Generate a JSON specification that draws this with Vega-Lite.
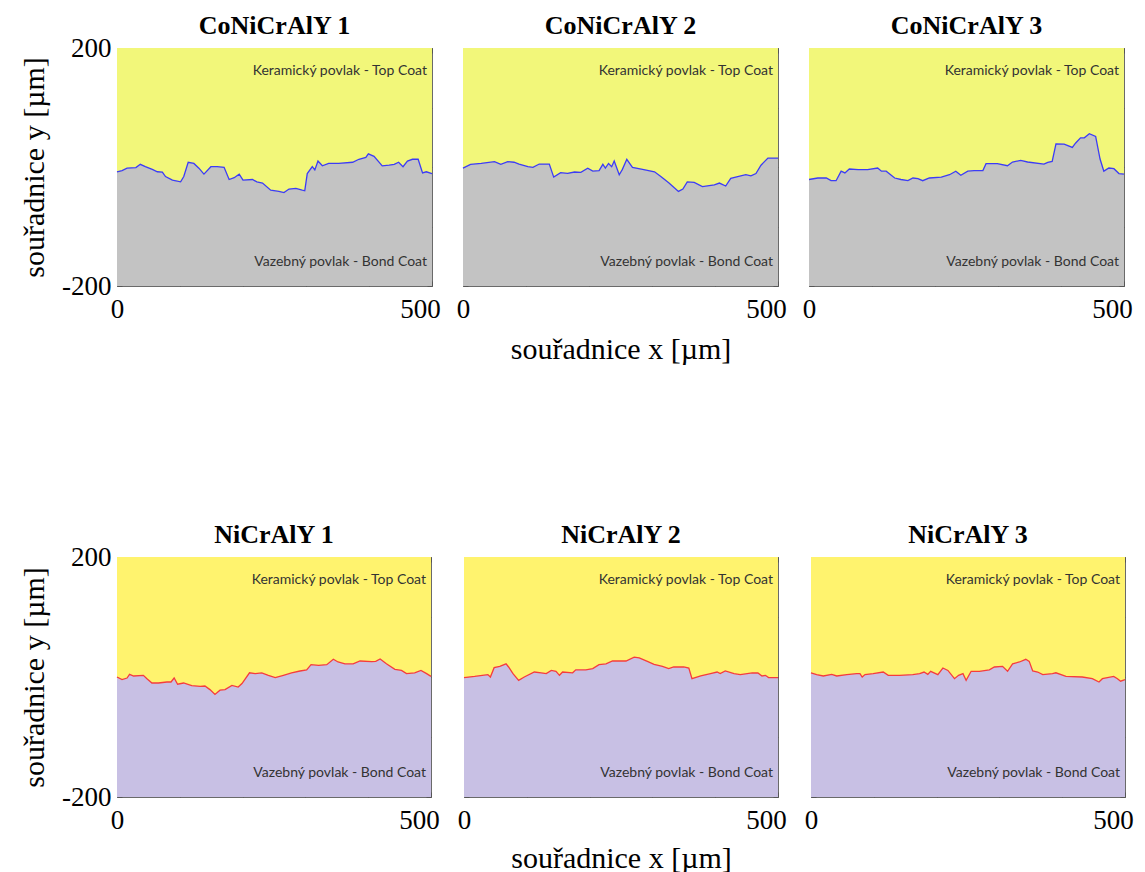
{
  "$schema": "https://vega.github.io/schema/vega-lite/v6.json",
  "background": "white",
  "padding": {"left": 19, "top": 12, "right": 5, "bottom": 2},
  "datasets": {
    "c1": [{"x":0,"y":-8},{"x":8,"y":-6},{"x":16,"y":-2},{"x":30,"y":-1},{"x":37,"y":4.5},{"x":45,"y":0.5},{"x":56,"y":-4},{"x":64,"y":-8},{"x":72,"y":-8.5},{"x":77,"y":-16},{"x":88,"y":-22},{"x":101,"y":-25},{"x":106,"y":-16},{"x":113,"y":8},{"x":122,"y":6},{"x":130,"y":-2},{"x":138,"y":-12},{"x":149,"y":0.5},{"x":159,"y":0.5},{"x":170,"y":-0.5},{"x":178,"y":-21},{"x":186,"y":-18},{"x":194,"y":-12},{"x":200,"y":-22},{"x":215,"y":-21},{"x":222,"y":-25},{"x":231,"y":-27},{"x":244,"y":-39},{"x":257,"y":-41},{"x":265,"y":-43},{"x":273,"y":-37},{"x":284,"y":-36},{"x":294,"y":-39},{"x":298,"y":-40},{"x":302,"y":-11},{"x":310,"y":0.5},{"x":314,"y":-5},{"x":319,"y":10},{"x":326,"y":2},{"x":336,"y":6},{"x":352,"y":6},{"x":374,"y":8},{"x":384,"y":13},{"x":395,"y":16},{"x":399,"y":22},{"x":408,"y":18},{"x":421,"y":2},{"x":432,"y":3},{"x":440,"y":4.5},{"x":447,"y":8},{"x":454,"y":0.5},{"x":461,"y":10},{"x":469,"y":13},{"x":478,"y":13},{"x":485,"y":-10},{"x":491,"y":-8},{"x":500,"y":-11}],
    "c2": [{"x":0,"y":-2},{"x":12,"y":4.5},{"x":29,"y":6},{"x":50,"y":9},{"x":60,"y":4.5},{"x":71,"y":9},{"x":81,"y":8},{"x":89,"y":5},{"x":103,"y":0.5},{"x":111,"y":-0.5},{"x":121,"y":5},{"x":137,"y":5},{"x":144,"y":-17},{"x":155,"y":-9.5},{"x":166,"y":-10.6},{"x":177,"y":-8.4},{"x":187,"y":-9},{"x":198,"y":-2},{"x":206,"y":-7},{"x":216,"y":-6},{"x":222,"y":4.5},{"x":226,"y":-2},{"x":231,"y":6},{"x":236,"y":0.5},{"x":240,"y":10},{"x":248,"y":-13},{"x":253,"y":-4},{"x":260,"y":13},{"x":269,"y":-0.5},{"x":285,"y":-4},{"x":304,"y":-8},{"x":314,"y":-16},{"x":327,"y":-27},{"x":342,"y":-41},{"x":349,"y":-37},{"x":356,"y":-25},{"x":367,"y":-26},{"x":380,"y":-33},{"x":399,"y":-30},{"x":407,"y":-27},{"x":417,"y":-32},{"x":425,"y":-19},{"x":436,"y":-16},{"x":449,"y":-13},{"x":457,"y":-15},{"x":465,"y":-11},{"x":473,"y":3},{"x":484,"y":15},{"x":491,"y":15},{"x":500,"y":15}],
    "c3": [{"x":0,"y":-21},{"x":14,"y":-18.5},{"x":27.5,"y":-18.5},{"x":35,"y":-23},{"x":43,"y":-23},{"x":51,"y":-7},{"x":57,"y":-10},{"x":64,"y":-3.4},{"x":78,"y":-4.5},{"x":93,"y":-4.5},{"x":109,"y":-1.7},{"x":115,"y":-7},{"x":122.5,"y":-7},{"x":136,"y":-18.5},{"x":146,"y":-21},{"x":157,"y":-23},{"x":165,"y":-18.5},{"x":173,"y":-19.6},{"x":180.5,"y":-23},{"x":191,"y":-18.5},{"x":210,"y":-17},{"x":223,"y":-13},{"x":233,"y":-7},{"x":241,"y":-14},{"x":252,"y":-7},{"x":262,"y":-6},{"x":276,"y":-6},{"x":281,"y":5.6},{"x":299,"y":5.6},{"x":315,"y":2.2},{"x":323,"y":8.4},{"x":336,"y":11},{"x":347,"y":8.4},{"x":373,"y":5},{"x":379,"y":7.8},{"x":386,"y":9.5},{"x":392,"y":39},{"x":405,"y":38.6},{"x":418,"y":33},{"x":423,"y":40},{"x":431,"y":49},{"x":437,"y":49},{"x":445,"y":56},{"x":455,"y":51.5},{"x":462,"y":13.4},{"x":468,"y":-7},{"x":476,"y":-1.7},{"x":484,"y":-2.8},{"x":492,"y":-11},{"x":500,"y":-12}],
    "n1": [{"x":0,"y":0},{"x":8,"y":-4.4},{"x":16,"y":-1.7},{"x":20,"y":4.4},{"x":26.5,"y":1.7},{"x":42,"y":2.8},{"x":47.7,"y":-2.8},{"x":55.6,"y":-10},{"x":66,"y":-10},{"x":79.5,"y":-8.3},{"x":86,"y":-8.3},{"x":91,"y":-1.7},{"x":96.5,"y":-12},{"x":106,"y":-10},{"x":119,"y":-14.5},{"x":132.5,"y":-15.6},{"x":140,"y":-15},{"x":148,"y":-21},{"x":156,"y":-29},{"x":164,"y":-22},{"x":172,"y":-21},{"x":183,"y":-14},{"x":193,"y":-16.7},{"x":199,"y":-11},{"x":211,"y":7},{"x":220,"y":5.6},{"x":230.5,"y":7},{"x":241,"y":2.8},{"x":252,"y":-1.1},{"x":265,"y":2.8},{"x":278,"y":6.7},{"x":291.5,"y":10},{"x":302,"y":12},{"x":309,"y":20.5},{"x":321,"y":19.5},{"x":334,"y":20.5},{"x":344.5,"y":29.5},{"x":352,"y":25},{"x":363,"y":22},{"x":376,"y":22},{"x":387,"y":26.7},{"x":405.5,"y":25.6},{"x":412,"y":26},{"x":419,"y":30},{"x":429,"y":22},{"x":442.5,"y":12.8},{"x":453,"y":11},{"x":461,"y":5.6},{"x":474,"y":7},{"x":484,"y":11},{"x":493,"y":5.6},{"x":500,"y":1}],
    "n2": [{"x":0,"y":-1},{"x":17,"y":1},{"x":38,"y":4},{"x":42,"y":0},{"x":48,"y":15.6},{"x":57,"y":17.8},{"x":67,"y":22},{"x":71,"y":16.7},{"x":78,"y":5.6},{"x":87,"y":-5.6},{"x":96,"y":0},{"x":112,"y":8.3},{"x":123,"y":7},{"x":131,"y":5.6},{"x":139,"y":11},{"x":146.5,"y":9.5},{"x":152,"y":2.8},{"x":157,"y":8.3},{"x":173,"y":7},{"x":178,"y":12},{"x":194,"y":12},{"x":205,"y":14},{"x":215,"y":20.5},{"x":226,"y":22},{"x":236.5,"y":26.7},{"x":258,"y":26.7},{"x":271,"y":33},{"x":279,"y":31.7},{"x":292,"y":26},{"x":302.6,"y":21},{"x":316,"y":17.8},{"x":326,"y":14},{"x":334,"y":16.7},{"x":350,"y":16.7},{"x":358,"y":15},{"x":363,"y":-2.8},{"x":377,"y":1.7},{"x":392.5,"y":5.6},{"x":403,"y":8.3},{"x":408,"y":5.6},{"x":416,"y":10},{"x":430,"y":5.6},{"x":440,"y":4},{"x":459,"y":6.7},{"x":468,"y":6.7},{"x":474.5,"y":1.7},{"x":480,"y":2.8},{"x":485,"y":-1},{"x":500,"y":-1}],
    "n3": [{"x":0,"y":7},{"x":9,"y":4},{"x":19.6,"y":1.7},{"x":33,"y":4.4},{"x":41,"y":1.7},{"x":57,"y":4},{"x":72.5,"y":5.6},{"x":78,"y":5.6},{"x":81.5,"y":0},{"x":86,"y":4},{"x":99,"y":5.6},{"x":115,"y":8.3},{"x":123,"y":2.8},{"x":141,"y":2.8},{"x":162,"y":4},{"x":173,"y":5.6},{"x":180,"y":8.3},{"x":186,"y":4.4},{"x":190.5,"y":9.5},{"x":202,"y":4},{"x":210,"y":15},{"x":218,"y":11},{"x":228.5,"y":-2.8},{"x":235,"y":2.8},{"x":242,"y":5.6},{"x":247,"y":-5.6},{"x":255,"y":9.5},{"x":268,"y":9.5},{"x":284,"y":12},{"x":292,"y":16.7},{"x":305,"y":17.8},{"x":313,"y":9.5},{"x":321,"y":22},{"x":332,"y":25},{"x":342,"y":29.5},{"x":347.5,"y":26},{"x":353,"y":10},{"x":361,"y":8.3},{"x":369,"y":4},{"x":384.5,"y":5.6},{"x":390,"y":7},{"x":406,"y":1},{"x":432,"y":0},{"x":448,"y":-2.8},{"x":458.6,"y":-8.3},{"x":464,"y":-2.8},{"x":482,"y":1},{"x":488,"y":-2.8},{"x":493,"y":-7},{"x":500,"y":-4.4}]
  },
  "config": {
    "view": {"stroke": "#6a6a6a", "strokeWidth": 1},
    "axis": {"domain": false, "grid": false, "tickColor": "#555555", "tickSize": -5, "tickWidth": 1, "labelFont": "Liberation Serif", "labelFontSize": 27, "labelColor": "black", "labelOverlap": false, "titleFont": "Liberation Serif", "titleFontSize": 30, "titleFontWeight": "normal", "titleColor": "black"},
    "title": {"font": "Liberation Serif", "fontSize": 26, "fontWeight": "bold", "color": "black", "offset": 9}
  },
  "spacing": 156,
  "vconcat": [
    {
      "bounds": "flush",
      "spacing": 31,
      "hconcat": [
        {
          "width": 315, "height": 238, "title": {"text": "CoNiCrAlY 1", "dy": 14},
          "layer": [
            {"data": {"name": "c1"}, "mark": {"type": "area", "color": "#f2f77a", "opacity": 1}, "encoding": {"x": {"field": "x", "type": "quantitative", "scale": {"domain": [0, 500], "nice": false}, "axis": {"orient": "bottom", "values": [0, 100, 200, 300, 400, 500], "labelExpr": "datum.value == 0 ? '0' : datum.value == 500 ? '500' : ''", "labelFlush": false, "labelOffset": {"condition": {"test": "datum.value == 500", "value": -12}, "value": 0}, "labelPadding": 15, "title": null}}, "y": {"field": "y", "type": "quantitative", "scale": {"domain": [-200, 200], "nice": false}, "axis": {"orient": "left", "values": [-200, -100, 0, 100, 200], "labelExpr": "datum.value == 200 ? '200' : datum.value == -200 ? '-200' : ''", "labelFlush": false, "labelPadding": 11, "title": "souřadnice y [µm]", "titlePadding": 12}}, "y2": {"datum": 200}}},
            {"data": {"name": "c1"}, "mark": {"type": "area", "color": "#c3c3c3", "opacity": 1}, "encoding": {"x": {"field": "x", "type": "quantitative", "axis": {"orient": "top", "values": [0, 100, 200, 300, 400, 500], "labels": false, "title": null}}, "y": {"field": "y", "type": "quantitative", "axis": {"orient": "right", "values": [-200, -100, 0, 100, 200], "labels": false, "title": null}}, "y2": {"datum": -200}}},
            {"data": {"name": "c1"}, "mark": {"type": "line", "color": "#3c3cf5", "strokeWidth": 1.3}, "encoding": {"x": {"field": "x", "type": "quantitative", "axis": null}, "y": {"field": "y", "type": "quantitative", "axis": null}}},
            {"data": {"values": [{}]}, "mark": {"type": "text", "align": "right", "baseline": "middle", "font": "Lato", "fontSize": 14, "color": "#333333"}, "encoding": {"x": {"datum": 492, "type": "quantitative", "axis": null}, "y": {"datum": 161, "type": "quantitative", "axis": null}, "text": {"value": "Keramický povlak - Top Coat"}}},
            {"data": {"values": [{}]}, "mark": {"type": "text", "align": "right", "baseline": "middle", "font": "Lato", "fontSize": 14, "color": "#333333"}, "encoding": {"x": {"datum": 492, "type": "quantitative", "axis": null}, "y": {"datum": -160, "type": "quantitative", "axis": null}, "text": {"value": "Vazebný povlak - Bond Coat"}}}
          ],
          "resolve": {"axis": {"x": "independent", "y": "independent"}}
        },
        {
          "width": 315, "height": 238, "title": "CoNiCrAlY 2",
          "layer": [
            {"data": {"name": "c2"}, "mark": {"type": "area", "color": "#f2f77a", "opacity": 1}, "encoding": {"x": {"field": "x", "type": "quantitative", "scale": {"domain": [0, 500], "nice": false}, "axis": {"orient": "bottom", "values": [0, 100, 200, 300, 400, 500], "labelExpr": "datum.value == 0 ? '0' : datum.value == 500 ? '500' : ''", "labelFlush": false, "labelOffset": {"condition": {"test": "datum.value == 500", "value": -12}, "value": 0}, "labelPadding": 15, "title": "souřadnice x [µm]", "titlePadding": 12}}, "y": {"field": "y", "type": "quantitative", "scale": {"domain": [-200, 200], "nice": false}, "axis": {"orient": "left", "values": [-200, -100, 0, 100, 200], "labels": false, "title": null}}, "y2": {"datum": 200}}},
            {"data": {"name": "c2"}, "mark": {"type": "area", "color": "#c3c3c3", "opacity": 1}, "encoding": {"x": {"field": "x", "type": "quantitative", "axis": {"orient": "top", "values": [0, 100, 200, 300, 400, 500], "labels": false, "title": null}}, "y": {"field": "y", "type": "quantitative", "axis": {"orient": "right", "values": [-200, -100, 0, 100, 200], "labels": false, "title": null}}, "y2": {"datum": -200}}},
            {"data": {"name": "c2"}, "mark": {"type": "line", "color": "#3c3cf5", "strokeWidth": 1.3}, "encoding": {"x": {"field": "x", "type": "quantitative", "axis": null}, "y": {"field": "y", "type": "quantitative", "axis": null}}},
            {"data": {"values": [{}]}, "mark": {"type": "text", "align": "right", "baseline": "middle", "font": "Lato", "fontSize": 14, "color": "#333333"}, "encoding": {"x": {"datum": 492, "type": "quantitative", "axis": null}, "y": {"datum": 161, "type": "quantitative", "axis": null}, "text": {"value": "Keramický povlak - Top Coat"}}},
            {"data": {"values": [{}]}, "mark": {"type": "text", "align": "right", "baseline": "middle", "font": "Lato", "fontSize": 14, "color": "#333333"}, "encoding": {"x": {"datum": 492, "type": "quantitative", "axis": null}, "y": {"datum": -160, "type": "quantitative", "axis": null}, "text": {"value": "Vazebný povlak - Bond Coat"}}}
          ],
          "resolve": {"axis": {"x": "independent", "y": "independent"}}
        },
        {
          "width": 315, "height": 238, "title": "CoNiCrAlY 3",
          "layer": [
            {"data": {"name": "c3"}, "mark": {"type": "area", "color": "#f2f77a", "opacity": 1}, "encoding": {"x": {"field": "x", "type": "quantitative", "scale": {"domain": [0, 500], "nice": false}, "axis": {"orient": "bottom", "values": [0, 100, 200, 300, 400, 500], "labelExpr": "datum.value == 0 ? '0' : datum.value == 500 ? '500' : ''", "labelFlush": false, "labelOffset": {"condition": {"test": "datum.value == 500", "value": -12}, "value": 0}, "labelPadding": 15, "title": null}}, "y": {"field": "y", "type": "quantitative", "scale": {"domain": [-200, 200], "nice": false}, "axis": {"orient": "left", "values": [-200, -100, 0, 100, 200], "labels": false, "title": null}}, "y2": {"datum": 200}}},
            {"data": {"name": "c3"}, "mark": {"type": "area", "color": "#c3c3c3", "opacity": 1}, "encoding": {"x": {"field": "x", "type": "quantitative", "axis": {"orient": "top", "values": [0, 100, 200, 300, 400, 500], "labels": false, "title": null}}, "y": {"field": "y", "type": "quantitative", "axis": {"orient": "right", "values": [-200, -100, 0, 100, 200], "labels": false, "title": null}}, "y2": {"datum": -200}}},
            {"data": {"name": "c3"}, "mark": {"type": "line", "color": "#3c3cf5", "strokeWidth": 1.3}, "encoding": {"x": {"field": "x", "type": "quantitative", "axis": null}, "y": {"field": "y", "type": "quantitative", "axis": null}}},
            {"data": {"values": [{}]}, "mark": {"type": "text", "align": "right", "baseline": "middle", "font": "Lato", "fontSize": 14, "color": "#333333"}, "encoding": {"x": {"datum": 492, "type": "quantitative", "axis": null}, "y": {"datum": 161, "type": "quantitative", "axis": null}, "text": {"value": "Keramický povlak - Top Coat"}}},
            {"data": {"values": [{}]}, "mark": {"type": "text", "align": "right", "baseline": "middle", "font": "Lato", "fontSize": 14, "color": "#333333"}, "encoding": {"x": {"datum": 492, "type": "quantitative", "axis": null}, "y": {"datum": -160, "type": "quantitative", "axis": null}, "text": {"value": "Vazebný povlak - Bond Coat"}}}
          ],
          "resolve": {"axis": {"x": "independent", "y": "independent"}}
        }
      ]
    },
    {
      "bounds": "flush",
      "spacing": 33,
      "hconcat": [
        {
          "width": 314, "height": 240, "title": {"text": "NiCrAlY 1", "dy": 14},
          "layer": [
            {"data": {"name": "n1"}, "mark": {"type": "area", "color": "#fff36e", "opacity": 1}, "encoding": {"x": {"field": "x", "type": "quantitative", "scale": {"domain": [0, 500], "nice": false}, "axis": {"orient": "bottom", "values": [0, 100, 200, 300, 400, 500], "labelExpr": "datum.value == 0 ? '0' : datum.value == 500 ? '500' : ''", "labelFlush": false, "labelOffset": {"condition": {"test": "datum.value == 500", "value": -12}, "value": 0}, "labelPadding": 15, "title": null}}, "y": {"field": "y", "type": "quantitative", "scale": {"domain": [-200, 200], "nice": false}, "axis": {"orient": "left", "values": [-200, -100, 0, 100, 200], "labelExpr": "datum.value == 200 ? '200' : datum.value == -200 ? '-200' : ''", "labelFlush": false, "labelPadding": 11, "title": "souřadnice y [µm]", "titlePadding": 12}}, "y2": {"datum": 200}}},
            {"data": {"name": "n1"}, "mark": {"type": "area", "color": "#c8c0e4", "opacity": 1}, "encoding": {"x": {"field": "x", "type": "quantitative", "axis": {"orient": "top", "values": [0, 100, 200, 300, 400, 500], "labels": false, "title": null}}, "y": {"field": "y", "type": "quantitative", "axis": {"orient": "right", "values": [-200, -100, 0, 100, 200], "labels": false, "title": null}}, "y2": {"datum": -200}}},
            {"data": {"name": "n1"}, "mark": {"type": "line", "color": "#f53c3c", "strokeWidth": 1.3}, "encoding": {"x": {"field": "x", "type": "quantitative", "axis": null}, "y": {"field": "y", "type": "quantitative", "axis": null}}},
            {"data": {"values": [{}]}, "mark": {"type": "text", "align": "right", "baseline": "middle", "font": "Lato", "fontSize": 14, "color": "#333333"}, "encoding": {"x": {"datum": 492, "type": "quantitative", "axis": null}, "y": {"datum": 161, "type": "quantitative", "axis": null}, "text": {"value": "Keramický povlak - Top Coat"}}},
            {"data": {"values": [{}]}, "mark": {"type": "text", "align": "right", "baseline": "middle", "font": "Lato", "fontSize": 14, "color": "#333333"}, "encoding": {"x": {"datum": 492, "type": "quantitative", "axis": null}, "y": {"datum": -160, "type": "quantitative", "axis": null}, "text": {"value": "Vazebný povlak - Bond Coat"}}}
          ],
          "resolve": {"axis": {"x": "independent", "y": "independent"}}
        },
        {
          "width": 314, "height": 240, "title": "NiCrAlY 2",
          "layer": [
            {"data": {"name": "n2"}, "mark": {"type": "area", "color": "#fff36e", "opacity": 1}, "encoding": {"x": {"field": "x", "type": "quantitative", "scale": {"domain": [0, 500], "nice": false}, "axis": {"orient": "bottom", "values": [0, 100, 200, 300, 400, 500], "labelExpr": "datum.value == 0 ? '0' : datum.value == 500 ? '500' : ''", "labelFlush": false, "labelOffset": {"condition": {"test": "datum.value == 500", "value": -12}, "value": 0}, "labelPadding": 15, "title": "souřadnice x [µm]", "titlePadding": 10}}, "y": {"field": "y", "type": "quantitative", "scale": {"domain": [-200, 200], "nice": false}, "axis": {"orient": "left", "values": [-200, -100, 0, 100, 200], "labels": false, "title": null}}, "y2": {"datum": 200}}},
            {"data": {"name": "n2"}, "mark": {"type": "area", "color": "#c8c0e4", "opacity": 1}, "encoding": {"x": {"field": "x", "type": "quantitative", "axis": {"orient": "top", "values": [0, 100, 200, 300, 400, 500], "labels": false, "title": null}}, "y": {"field": "y", "type": "quantitative", "axis": {"orient": "right", "values": [-200, -100, 0, 100, 200], "labels": false, "title": null}}, "y2": {"datum": -200}}},
            {"data": {"name": "n2"}, "mark": {"type": "line", "color": "#f53c3c", "strokeWidth": 1.3}, "encoding": {"x": {"field": "x", "type": "quantitative", "axis": null}, "y": {"field": "y", "type": "quantitative", "axis": null}}},
            {"data": {"values": [{}]}, "mark": {"type": "text", "align": "right", "baseline": "middle", "font": "Lato", "fontSize": 14, "color": "#333333"}, "encoding": {"x": {"datum": 492, "type": "quantitative", "axis": null}, "y": {"datum": 161, "type": "quantitative", "axis": null}, "text": {"value": "Keramický povlak - Top Coat"}}},
            {"data": {"values": [{}]}, "mark": {"type": "text", "align": "right", "baseline": "middle", "font": "Lato", "fontSize": 14, "color": "#333333"}, "encoding": {"x": {"datum": 492, "type": "quantitative", "axis": null}, "y": {"datum": -160, "type": "quantitative", "axis": null}, "text": {"value": "Vazebný povlak - Bond Coat"}}}
          ],
          "resolve": {"axis": {"x": "independent", "y": "independent"}}
        },
        {
          "width": 314, "height": 240, "title": "NiCrAlY 3",
          "layer": [
            {"data": {"name": "n3"}, "mark": {"type": "area", "color": "#fff36e", "opacity": 1}, "encoding": {"x": {"field": "x", "type": "quantitative", "scale": {"domain": [0, 500], "nice": false}, "axis": {"orient": "bottom", "values": [0, 100, 200, 300, 400, 500], "labelExpr": "datum.value == 0 ? '0' : datum.value == 500 ? '500' : ''", "labelFlush": false, "labelOffset": {"condition": {"test": "datum.value == 500", "value": -12}, "value": 0}, "labelPadding": 15, "title": null}}, "y": {"field": "y", "type": "quantitative", "scale": {"domain": [-200, 200], "nice": false}, "axis": {"orient": "left", "values": [-200, -100, 0, 100, 200], "labels": false, "title": null}}, "y2": {"datum": 200}}},
            {"data": {"name": "n3"}, "mark": {"type": "area", "color": "#c8c0e4", "opacity": 1}, "encoding": {"x": {"field": "x", "type": "quantitative", "axis": {"orient": "top", "values": [0, 100, 200, 300, 400, 500], "labels": false, "title": null}}, "y": {"field": "y", "type": "quantitative", "axis": {"orient": "right", "values": [-200, -100, 0, 100, 200], "labels": false, "title": null}}, "y2": {"datum": -200}}},
            {"data": {"name": "n3"}, "mark": {"type": "line", "color": "#f53c3c", "strokeWidth": 1.3}, "encoding": {"x": {"field": "x", "type": "quantitative", "axis": null}, "y": {"field": "y", "type": "quantitative", "axis": null}}},
            {"data": {"values": [{}]}, "mark": {"type": "text", "align": "right", "baseline": "middle", "font": "Lato", "fontSize": 14, "color": "#333333"}, "encoding": {"x": {"datum": 492, "type": "quantitative", "axis": null}, "y": {"datum": 161, "type": "quantitative", "axis": null}, "text": {"value": "Keramický povlak - Top Coat"}}},
            {"data": {"values": [{}]}, "mark": {"type": "text", "align": "right", "baseline": "middle", "font": "Lato", "fontSize": 14, "color": "#333333"}, "encoding": {"x": {"datum": 492, "type": "quantitative", "axis": null}, "y": {"datum": -160, "type": "quantitative", "axis": null}, "text": {"value": "Vazebný povlak - Bond Coat"}}}
          ],
          "resolve": {"axis": {"x": "independent", "y": "independent"}}
        }
      ]
    }
  ]
}
